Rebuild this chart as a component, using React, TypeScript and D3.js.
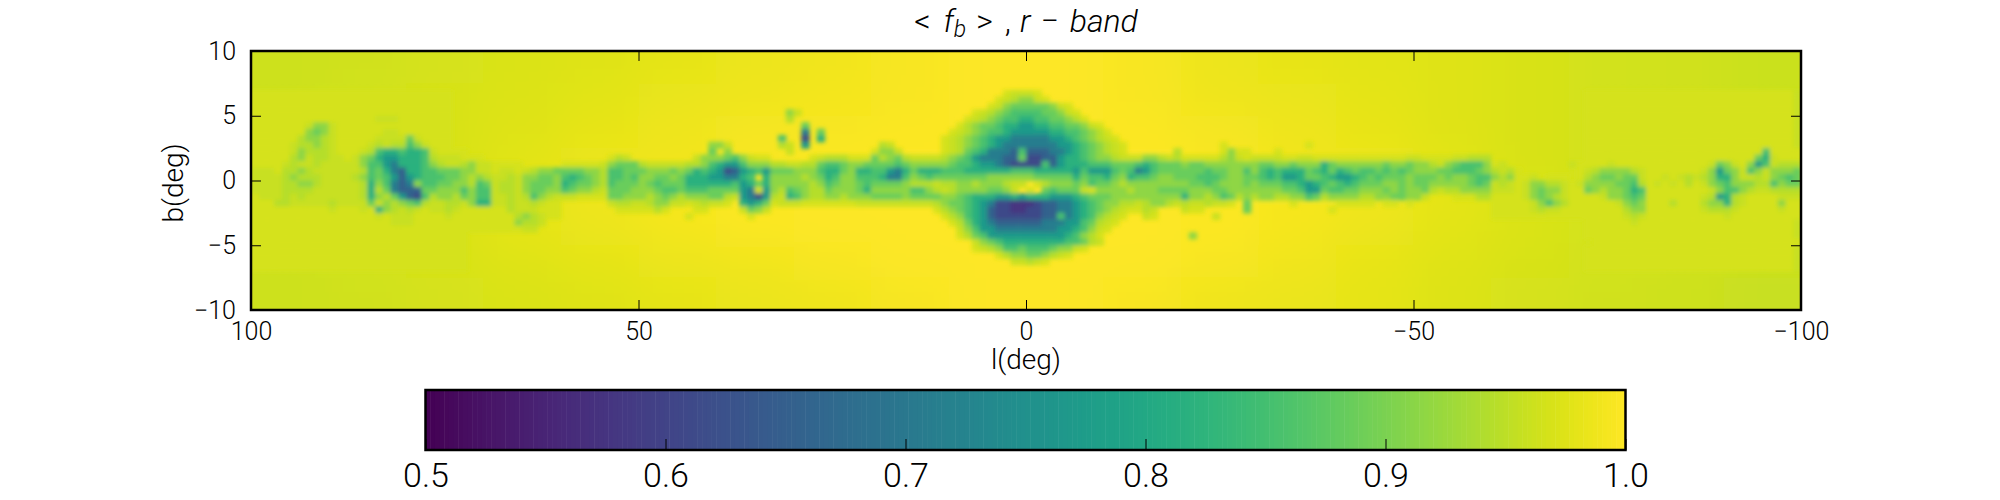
import React, { useEffect, useRef } from "react";
import * as d3 from "d3";

// broad level of the map away from the disc, read by eye
// 20 columns of 10 deg (l = 100 to -100), 8 rows of 2.5 deg (b = 10 to -10)
const backdropRows: number[][] = [
  [0.962, 0.964, 0.968, 0.972, 0.975, 0.98, 0.985, 0.99, 0.995, 1.0, 1.0, 0.995, 0.985, 0.982, 0.978, 0.975, 0.97, 0.966, 0.964, 0.96],
  [0.962, 0.965, 0.969, 0.974, 0.978, 0.983, 0.988, 0.992, 0.996, 1.0, 1.0, 0.996, 0.988, 0.984, 0.98, 0.976, 0.97, 0.966, 0.964, 0.96],
  [0.962, 0.966, 0.97, 0.976, 0.982, 0.988, 0.993, 0.995, 0.998, 1.0, 1.0, 0.998, 0.993, 0.988, 0.982, 0.976, 0.97, 0.966, 0.964, 0.96],
  [0.962, 0.966, 0.97, 0.978, 0.985, 0.99, 0.995, 0.997, 1.0, 1.0, 1.0, 1.0, 0.995, 0.99, 0.985, 0.978, 0.97, 0.966, 0.964, 0.96],
  [0.96, 0.966, 0.972, 0.98, 0.988, 0.995, 1.0, 1.0, 1.0, 1.0, 1.0, 1.0, 1.0, 0.995, 0.99, 0.98, 0.972, 0.966, 0.964, 0.96],
  [0.962, 0.966, 0.972, 0.98, 0.985, 0.992, 0.998, 1.0, 1.0, 1.0, 1.0, 1.0, 0.998, 0.992, 0.985, 0.978, 0.972, 0.966, 0.964, 0.96],
  [0.962, 0.966, 0.97, 0.976, 0.98, 0.985, 0.99, 0.995, 1.0, 1.0, 1.0, 1.0, 0.995, 0.99, 0.982, 0.976, 0.97, 0.966, 0.964, 0.96],
  [0.962, 0.964, 0.968, 0.972, 0.976, 0.98, 0.984, 0.988, 0.993, 1.0, 1.0, 0.995, 0.988, 0.984, 0.98, 0.974, 0.968, 0.964, 0.962, 0.958],
];

// fine structure read by eye: one char per cell, 1 deg wide, 0.5 deg high,
// each block of 20 chars spans 20 deg of longitude, first row starts at b = +7
// c and d are left out so that the backdrop shows through
const levelValues: Record<string, number> = {
  "0": 0.575, "1": 0.61, "2": 0.655, "3": 0.71, "4": 0.77, "5": 0.82, "6": 0.855,
  "7": 0.885, "8": 0.915, "9": 0.945, a: 0.958, b: 0.968,
};
const firstLat = 7;

const cellRows: string[] = [
  "bbbbbbbbbbbbbbbbbbbb bbbbbbcccccccccccccc cccccccccccccccccccc ccccccccdddddddddddd dddddddddddddddddbaa abdddddddddddddddddd ddddddddddcccccccccc cccccccccccccccccccc ccccccccccccbbbbbbbb bbbbbbbbbbbbbbbbbbba",
  "bbbbbbbbbbbbbbbbbbbb bbbbbbcccccccccccccc cccccccccccccccccccc ccccccccdddddddddddd ddddddddddddddddba98 8abddddddddddddddddd ddddddddddcccccccccc cccccccccccccccccccc ccccccccccccbbbbbbbb bbbbbbbbbbbbbbbbbbba",
  "bbbbbbbbbbbbbbbbbbbb bbbbbbcccccccccccccc cccccccccccccccccccc ccccccccdddddddddddd dddddddddddddddba877 7778abdddddddddddddd ddddddddddcccccccccc cccccccccccccccccccc ccccccccccccbbbbbbbb bbbbbbbbbbbbbbbbbbba",
  "bbbbbbbbbbbbbbbbbbbb bbbbbbcccccccccccccc cccccccccccccccccccc ddddddddd8addddddddd dddddddddddddba98766 66778abddddddddddddd ddddddddddcccccccccc cccccccccccccccccccc ccccccccccccbbbbbbbb bbbbbbbbbbbbbbbbbbba",
  "bbbbbbbbbbbbbbbbaaab bbbbbbcccccccccccccc cccccccccccccccccccc ddddddddd9cddcdddddd ddddddddddddba987665 5667789bdddddddddddd ddddddddddcccccccccc cccccccccccccccccccc ccccccccccccbbbbbbbb bbbbbbbbbbbbbbbbbbba",
  "bbbbbbba88abbbbbbbbb bbbbbbcccccccccccccc cccccccccccccccccccc ddddddddcdd7dcdddddd dddddddddddb98776554 45566778abdddddddddd ddddddddddcccccccccc cccccccccccccccccccc ccccccccccccbbbbbbbb bbbbbbbbbbbbbbbbbbba",
  "bbbbbbb878abbbbbbaab bbbbbbcccccccccccccc cccccccccccccccccccc ddddddddcdd3d7cddddd ddddddddddba98766544 4445566789bddddddddd ddddddddddcccccccccc cccccccccccccccccccc ccccccccccccbbbbbbbb bbbbbbbbbbbbbbbbbbba",
  "bbbbbb9889abbbbbaaaa 7abbbbcccccccccccccc cccccccccccccccccccc dddddddc6cd1c5cddddd dddddddddba987654433 33344567 89abdddddddd ddddddddddcccccccccc cccccccccccccccccccc ccccccccccccbbbbbbbb bbbbbbbbbbbbbbbbbbba",
  "bbbbba9989abbbba9a99 68abbbcccccccccccccc cccccdddddddddddddd8 8adddddc9ac4dcdddddd d9acdddddba987654333 33334456789abddddddc dddddbccccccccccbccc cccccccccccccccccccc ccccccccccccbbbbbbbb bbbbbbbbbbbbbbbbbbba",
  "bbbbba8999abbba96556 556abbbbcccccccccccc cccccdddddddddddddc7 c8dddddddacdcddddddd b88acccccba976533326 22233456789abccdddc9 dddddb8bbcccbccccccc cccccccccccccccccccc ccccccccccccbbbbbbbb bbbbbbbbbbbbbbb6bbbb",
  "bbbbb98a99aaba875445 5569aaabbbcccccccccc ccccccb9acccccccca88 8768abbcccccba999bbb 79879aaaa98764333227 112245567889aaa889a9 bbbbb98abaaaabbaabbb bbbbbbbbbaabbbbaa999 ccccccccccccbbbbbbbb bbbbbbbbbbbbbb75abbb",
  "bbbba9aa9aaaaa866435 55689aa98aabbbbccccc bbbbba87779aaaaa9986 54468889 9aa997667887 77767888887665443211 11624555666777656777 87788888887788788857 88888878878 89a8766 68 baccccccccabbbbabbbb bbbbbbbba78ab846a999",
  "aaab9989aaaaaa967532 556677788aabaaba9887 77788966777888787565 41245647778886557855 66435755566655555566 65555546444676346777 77767788686565557657 56766767678887766678 9a9bccdccccba988889a bbbbbbba8478a68a8887",
  "aaaa98999aaaa9867642 45666778989aa9a88778 65678966768877875554 43356c58888987568866 65336876777777788888 87777757665785667887 77666788776564457765 44567677787778788766 898bbacbbbcb98778 77a bbaba9a98558aa9a8767",
  "aaaa99889aaaaa958632 38667788967a99a87778 56778967778767775555 55645758888898678876 77778999a99889888 9aa cb988878677898888888 87767888787776654567 65677788787788888767 a9aba8899aba88887769 babab9ba876888996877",
  "aaaa9999aaaaaa959732 22778886866a99a87788 67889a777888766766 67 77743b48967899788875 888886689a98888778ac bc76777ab88889888777 78887788888887764476 6778887878879a998888 aaaba8788abb78988756 bbbbbbbba86689aa9999",
  "baaa9a9aaaaaaa958974 21698897866aa9a9689a aabbbb77888987898887 79a43149a56899889888 77778777788765554454 55544456777888888888 58898679898899886798 88899887788acccbbb99 bbbba8789abbbba88767 bbbbbbba9459abbbbaaa",
  "bbb99aaaaa9aaaa7a898 769aa99a855aa9aa9abb cccccca99aa988aaba9a abc5457baaabbbbbbbaa aaaaaaaa987765431100 0122334567889 9a9889a 9aa9aabc7cccccbccccc bbbbbcbbcbcdddcccccc bbbbba8689bbbbbba878 bbb9bbb98859abbbb8bb",
  "bbbbbbbbbbabbbab589a 9abaa9abbbbbb9aaabbb dddddddbbbbb9bcccbbc cdda78addddddddddddd dddddddcb98765421100 112233456789abb9accc abbddddd7ddddddddddb ddddddddddcccccccccc bbbbba9aabbbbbbbb988 bbbbbbba999abbbbbabb",
  "bbbbbbbbbbbbbbbbabaa abbbbabbbbbbbb989abb ddddddddddddddddbddd dddcbcdddddddddddddd ddddddddcb9865421111 11226345689abccabcdd ddddaddddddddddddddd ddddddddddddcccccccc bbbbbbbbbbbbbbbbba9a bbbbbbbbbbabbbbbbbbb",
  "bbbbbbbbbbbbbbbbbbaa abbbbbbbbbbbbb899acc dddddddddddddddddddd dddddddddddddddddddd dddddddddcb975432222 2233344679abcddddddd dddddddddddddddddddd ddddddddddddcccccccc ccccccccccccbbbbbbab bbbbbbbbbbbbbbbbbbba",
  "bbbbbbbbbbbbbbbbbbbb bbbbbbbbbbbbbbbaaccc dddddddddddddddddddd dddddddddddddddddddd ddddddddddca86443333 333344568abcdddddddd dddddddddddddddddddd ddddddddddddcccccccc ccccccccccccbbbbbbbb bbbbbbbbbbbbbbbbbbba",
  "bbbbbbbbbbbbbbbbbbbb bbbbbbbbcccccccccccc cccccccccccccccccccc ccdddddddddddddddddd dddddddddddb97644444 4444456 89bcddddddddd d8dddddddddddddddddd ddddddddddddcccccccc ccccccccccccbbbbbbbb bbbbbbbbbbbbbbbbbbba",
  "bbbbbbbbbbbbbbbbbbbb bbbbbbbbcccccccccccc cccccccccccccccccccc ccdddddddddddddddddd ddddddddddddca876555 55555667 9acdddddddddd dddddddddddddddddddd ddddddddddddcccccccc ccccccccccccbbbbbbbb bbbbbbbbbbbbbbbbbbba",
  "bbbbbbbbbbbbbbbbbbbb bbbbbbbbcccccccccccc cccccccccccccccccccc ccdddddddddddddddddd dddddddddddddba98667 666788abcddddddddddd dddddddddddddddddddd ddddddddddddcccccccc ccccccccccccbbbbbbbb bbbbbbbbbbbbbbbbbbba",
  "bbbbbbbbbbbbbbbbbbbb bbbbbbbbcccccccccccc cccccccccccccccccccc ccdddddddddddddddddd dddddddddddddddcb988 7789abcddddddddddddd dddddddddddddddddddd ddddddddddddcccccccc ccccccccccccbbbbbbbb bbbbbbbbbbbbbbbbbbba",
  "bbbbbbbbbbbbbbbbbbbb bbbbbbbbcccccccccccc cccccccccccccccccccc ccdddddddddddddddddd dddddddddddddddddcaa 9abcdddddddddddddddd dddddddddddddddddddd ddddddddddddcccccccc ccccccccccccbbbbbbbb bbbbbbbbbbbbbbbbbbba",
  "bbbbbbbbbbbbbbbbbbbb bbbbbbbbcccccccccccc cccccccccccccccccccc ccdddddddddddddddddd ddddddddddddddddddcc ccdddddddddddddddddd dddddddddddddddddddd ddddddddcccccccccccc ccccccccccccbbbbbbbb bbbbbbbbbbbbbbbbbbba",
];

const lonTicks = [100, 50, 0, -50, -100];
const latTicks = [10, 5, 0, -5, -10];
const barTicks = [0.5, 0.6, 0.7, 0.8, 0.9, 1.0];

const font = "Roboto, Lato, sans-serif";

const App: React.FC = () => {
  const svgRef = useRef<SVGSVGElement | null>(null);

  useEffect(() => {
    const svg = d3.select(svgRef.current);
    svg.selectAll("*").remove();

    const plot = { left: 251, right: 1801, top: 51, bottom: 310 };
    const bar = { left: 425.5, right: 1625.5, top: 390, bottom: 450 };

    const x = d3.scaleLinear().domain([100, -100]).range([plot.left, plot.right]);
    const y = d3.scaleLinear().domain([10, -10]).range([plot.top, plot.bottom]);
    const color = d3.scaleSequential(d3.interpolateViridis).domain([0.5, 1.0]);
    const xBar = d3.scaleLinear().domain([0.5, 1.0]).range([bar.left, bar.right]);

    const defs = svg.append("defs");
    defs.append("filter").attr("id", "soft").append("feGaussianBlur").attr("stdDeviation", 2.3);
    defs
      .append("filter")
      .attr("id", "wide")
      .attr("filterUnits", "userSpaceOnUse")
      .attr("x", 0)
      .attr("y", -200)
      .attr("width", 2000)
      .attr("height", 800)
      .append("feGaussianBlur")
      .attr("stdDeviation", 22);
    defs
      .append("clipPath")
      .attr("id", "plot-clip")
      .append("rect")
      .attr("x", plot.left)
      .attr("y", plot.top)
      .attr("width", plot.right - plot.left)
      .attr("height", plot.bottom - plot.top);

    const clipped = svg.append("g").attr("clip-path", "url(#plot-clip)");

    // backdrop, outer cells run past the frame so the blur stays opaque inside it
    const pad = 90;
    const backdrop = backdropRows.flatMap((row, i) =>
      row.map((value, j) => ({ i, j, value }))
    );
    clipped
      .append("g")
      .attr("filter", "url(#wide)")
      .selectAll("rect")
      .data(backdrop)
      .enter()
      .append("rect")
      .attr("x", (d) => x(100 - d.j * 10) - (d.j === 0 ? pad : 0))
      .attr("y", (d) => y(10 - d.i * 2.5) - (d.i === 0 ? pad : 0))
      .attr("width", (d) => x(90) - x(100) + 1 + (d.j === 0 || d.j === 19 ? pad : 0))
      .attr("height", (d) => y(7.5) - y(10) + 1 + (d.i === 0 || d.i === 7 ? pad : 0))
      .attr("fill", (d) => color(d.value));

    // fine structure
    const cells = cellRows.flatMap((row, i) =>
      row
        .replace(/ /g, "")
        .split("")
        .map((ch, j) => ({ lon: 100 - j, lat: firstLat - i * 0.5, value: levelValues[ch] }))
        .filter((d) => d.value !== undefined)
    );
    clipped
      .append("g")
      .attr("filter", "url(#soft)")
      .selectAll("rect")
      .data(cells)
      .enter()
      .append("rect")
      .attr("x", (d) => x(d.lon))
      .attr("y", (d) => y(d.lat))
      .attr("width", x(99) - x(100) + 0.6)
      .attr("height", y(9.5) - y(10) + 0.6)
      .attr("fill", (d) => color(d.value!));

    // frame and ticks of the map
    const styleAxis = (g: d3.Selection<SVGGElement, unknown, null, undefined>, size: number) => {
      g.select(".domain").remove();
      g.selectAll("line").attr("stroke", "#000").attr("stroke-width", 1);
      g.selectAll("text")
        .attr("fill", "#000")
        .attr("font-family", font)
        .attr("font-weight", 300)
        .attr("font-size", size);
    };
    const fmt = (d: d3.NumberValue) => `${+d < 0 ? "\u2212" : ""}${Math.abs(+d)}`;

    svg
      .append("g")
      .attr("transform", `translate(0,${plot.bottom})`)
      .call(d3.axisBottom(x).tickValues(lonTicks).tickFormat(fmt).tickSizeInner(-10).tickPadding(12))
      .call(styleAxis as any, 25);
    svg
      .append("g")
      .attr("transform", `translate(0,${plot.top})`)
      .call(d3.axisTop(x).tickValues(lonTicks).tickFormat(() => "").tickSizeInner(-10))
      .call(styleAxis as any, 25);
    svg
      .append("g")
      .attr("transform", `translate(${plot.left},0)`)
      .call(d3.axisLeft(y).tickValues(latTicks).tickFormat(fmt).tickSizeInner(-10).tickPadding(15))
      .call(styleAxis as any, 25);
    svg
      .append("g")
      .attr("transform", `translate(${plot.right},0)`)
      .call(d3.axisRight(y).tickValues(latTicks).tickFormat(() => "").tickSizeInner(-10))
      .call(styleAxis as any, 25);

    svg
      .append("rect")
      .attr("x", plot.left)
      .attr("y", plot.top)
      .attr("width", plot.right - plot.left)
      .attr("height", plot.bottom - plot.top)
      .attr("fill", "none")
      .attr("stroke", "#000")
      .attr("stroke-width", 2.5);

    // axis titles
    const label = (txt: string, size: number) =>
      svg
        .append("text")
        .text(txt)
        .attr("fill", "#000")
        .attr("font-family", font)
        .attr("font-weight", 300)
        .attr("font-size", size)
        .attr("text-anchor", "middle");
    label("l(deg)", 28).attr("x", (plot.left + plot.right) / 2).attr("y", 369);
    label("b(deg)", 28).attr("transform", "translate(183,183) rotate(-90)");

    const title = svg
      .append("text")
      .attr("x", (plot.left + plot.right) / 2)
      .attr("y", 32)
      .attr("text-anchor", "middle")
      .attr("fill", "#000")
      .attr("font-family", font)
      .attr("font-weight", 300)
      .attr("font-size", 32);
    title.append("tspan").text("<");
    title.append("tspan").attr("dx", 13).attr("font-style", "italic").text("f");
    title.append("tspan").attr("font-style", "italic").attr("font-size", 23).attr("dy", 5).text("b");
    title.append("tspan").attr("dx", 10).attr("dy", -5).text(">");
    title.append("tspan").attr("dx", 12).text(",");
    title.append("tspan").attr("dx", 9).attr("font-style", "italic").text("r");
    title.append("tspan").attr("dx", 10).text("\u2212");
    title.append("tspan").attr("dx", 11).attr("font-style", "italic").text("band");

    // colour bar
    const steps = d3.range(0, 256).map((i) => 0.5 + (i * 0.5) / 256);
    svg
      .append("g")
      .selectAll("rect")
      .data(steps)
      .enter()
      .append("rect")
      .attr("x", (d) => xBar(d))
      .attr("y", bar.top)
      .attr("width", (bar.right - bar.left) / 256 + 0.5)
      .attr("height", bar.bottom - bar.top)
      .attr("fill", (d) => color(d));
    svg
      .append("g")
      .attr("transform", `translate(0,${bar.bottom})`)
      .call(d3.axisBottom(xBar).tickValues(barTicks).tickFormat(d3.format(".1f")).tickSizeInner(-11).tickPadding(13))
      .call(styleAxis as any, 34);
    svg
      .append("rect")
      .attr("x", bar.left)
      .attr("y", bar.top)
      .attr("width", bar.right - bar.left)
      .attr("height", bar.bottom - bar.top)
      .attr("fill", "none")
      .attr("stroke", "#000")
      .attr("stroke-width", 2.5);
  }, []);

  return (
    <svg
      ref={svgRef}
      width={2000}
      height={500}
      style={{ position: "absolute", left: 0, top: 0, background: "#fff" }}
    />
  );
};

export default App;
